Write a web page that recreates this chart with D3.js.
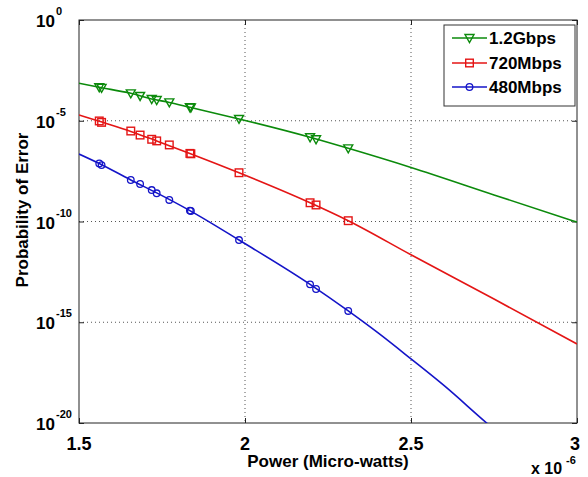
<!DOCTYPE html>
<html>
<head>
<meta charset="utf-8">
<script src="https://cdn.jsdelivr.net/npm/d3@7"></script>
<style>
html,body{margin:0;padding:0;background:#fff;}
text{font-family:"Liberation Sans",Arial,sans-serif;font-weight:bold;fill:#000;}
</style>
</head>
<body>
<svg id="chart" width="588" height="477"></svg>
<script>
// ---- data (power in units of 1e-6 W, probability as log10 exponent) ----
const seriesNames = ["1.2Gbps", "720Mbps", "480Mbps"];
const seriesColors = ["#0b8a0b", "#e41515", "#1414c8"];
const seriesSymbols = ["triangleDown", "square", "circle"];

// markers (measured points)
const markerPower = [1.561, 1.568, 1.656, 1.684, 1.719, 1.734, 1.772, 1.834, 1.837, 1.982, 2.196, 2.214, 2.311];
const markerG = [-3.34, -3.37, -3.64, -3.77, -3.92, -3.97, -4.09, -4.33, -4.34, -4.91, -5.82, -5.92, -6.37];
const markerR = [-5.01, -5.08, -5.51, -5.71, -5.92, -6.00, -6.20, -6.62, -6.64, -7.58, -9.07, -9.18, -9.96];
const markerB = [-7.12, -7.20, -7.94, -8.14, -8.44, -8.60, -8.93, -9.46, -9.48, -10.92, -13.12, -13.35, -14.44];

// theoretical curves
const lineGx = [1.5, 1.561, 1.656, 1.719, 1.772, 1.834, 1.982, 2.196, 2.311, 2.5, 2.75, 3.0];
const lineGy = [-3.14, -3.34, -3.64, -3.92, -4.09, -4.33, -4.91, -5.82, -6.37, -7.32, -8.68, -10.03];
const lineRx = [1.5, 1.561, 1.656, 1.734, 1.834, 1.982, 2.196, 2.311, 2.5, 2.75, 3.0];
const lineRy = [-4.71, -5.03, -5.53, -6.00, -6.62, -7.58, -9.07, -9.96, -11.65, -13.85, -16.08];
const lineBx = [1.5, 1.561, 1.656, 1.734, 1.834, 1.982, 2.196, 2.311, 2.4, 2.5, 2.6, 2.728, 2.8];
const lineBy = [-6.65, -7.12, -7.94, -8.58, -9.46, -10.92, -13.12, -14.44, -15.52, -16.82, -18.15, -20.0, -21.0];

const xTicks = [1.5, 2, 2.5, 3];
const xTickLabels = ["1.5", "2", "2.5", "3"];
const yTickExp = [0, -5, -10, -15, -20];

const xLabel = "Power (Micro-watts)";
const yLabel = "Probability of Error";

// ---- layout ----
const svg = d3.select("#chart");
const L = 79, R = 577, T = 20, B = 423;
const x = d3.scaleLinear().domain([1.5, 3]).range([L, R]);
const y = d3.scaleLog().domain([1e-20, 1]).range([B, T]);

svg.append("rect").attr("x",0).attr("y",0).attr("width",588).attr("height",477).attr("fill","#fff");
svg.append("defs").append("clipPath").attr("id","plotclip")
  .append("rect").attr("x",L).attr("y",T).attr("width",R-L).attr("height",B-T);

// grid
const grid = svg.append("g").attr("stroke","#555").attr("stroke-width",1).attr("stroke-dasharray","1,3");
xTicks.filter(v => v > 1.5 && v < 3).forEach(v => {
  grid.append("line").attr("x1",x(v)).attr("x2",x(v)).attr("y1",T).attr("y2",B);
});
yTickExp.filter(e => e < 0 && e > -20).forEach(e => {
  grid.append("line").attr("x1",L).attr("x2",R).attr("y1",y(Math.pow(10,e))).attr("y2",y(Math.pow(10,e)));
});

// axes via d3 axis generators (inward ticks)
const axB = d3.axisBottom(x).tickValues(xTicks).tickSize(-5).tickFormat("");
const axT = d3.axisTop(x).tickValues(xTicks).tickSize(-5).tickFormat("");
const yTickVals = yTickExp.map(e => Math.pow(10, e));
const axL = d3.axisLeft(y).tickValues(yTickVals).tickSize(-5).tickFormat("");
const axR = d3.axisRight(y).tickValues(yTickVals).tickSize(-5).tickFormat("");
[[axB,`translate(0,${B})`],[axT,`translate(0,${T})`],[axL,`translate(${L},0)`],[axR,`translate(${R},0)`]].forEach(([a,t]) => {
  const g = svg.append("g").attr("transform",t).call(a);
  g.select(".domain").remove();
  g.selectAll("line").attr("stroke","#222");
});
svg.append("rect").attr("x",L).attr("y",T).attr("width",R-L).attr("height",B-T)
  .attr("fill","none").attr("stroke","#222").attr("stroke-width",1);

// x tick labels
xTicks.forEach((v,i) => {
  svg.append("text").attr("x",x(v) - (i === xTicks.length-1 ? 2 : 0)).attr("y",450).attr("text-anchor","middle")
    .attr("font-size",18).text(xTickLabels[i]);
});
// y tick labels 10^e
yTickExp.forEach(e => {
  const yy = y(Math.pow(10,e));
  svg.append("text").attr("x",55).attr("y",yy+7).attr("text-anchor","end")
    .attr("font-size",17).text("10");
  svg.append("text").attr("x",56).attr("y",yy-5).attr("text-anchor","start")
    .attr("font-size",11).text(String(e));
});
// axis labels
svg.append("text").attr("x",(L+R)/2).attr("y",467).attr("text-anchor","middle")
  .attr("font-size",17).text(xLabel);
svg.append("text").attr("transform",`translate(28,${210}) rotate(-90)`).attr("text-anchor","middle")
  .attr("font-size",17).text(yLabel);
// multiplier
svg.append("text").attr("x",531).attr("y",474).attr("font-size",16).text("x 10");
svg.append("text").attr("x",566).attr("y",464).attr("font-size",11).text("-6");

// curves
const lineGen = d3.line().curve(d3.curveMonotoneX).x(d => x(d[0])).y(d => y(Math.pow(10, d[1])));
const lines = [
  d3.zip(lineGx, lineGy),
  d3.zip(lineRx, lineRy),
  d3.zip(lineBx, lineBy)
];
const markers = [markerG, markerR, markerB];
const plotG = svg.append("g").attr("clip-path","url(#plotclip)");

function drawMarker(g, sym, cx, cy, color) {
  if (sym === "triangleDown") {
    g.append("path").attr("d",`M${cx-4.5},${cy-3.5}L${cx+4.5},${cy-3.5}L${cx},${cy+4.5}Z`)
      .attr("fill","none").attr("stroke",color).attr("stroke-width",1.4);
  } else if (sym === "square") {
    g.append("rect").attr("x",cx-3.8).attr("y",cy-3.8).attr("width",7.6).attr("height",7.6)
      .attr("fill","none").attr("stroke",color).attr("stroke-width",1.4);
  } else {
    g.append("circle").attr("cx",cx).attr("cy",cy).attr("r",3.3)
      .attr("fill","none").attr("stroke",color).attr("stroke-width",1.3);
  }
}

lines.forEach((pts, i) => {
  plotG.append("path").datum(pts).attr("d", lineGen).attr("fill","none")
    .attr("stroke", seriesColors[i]).attr("stroke-width", 1.6);
  markerPower.forEach((p, j) => {
    drawMarker(plotG, seriesSymbols[i], x(p), y(Math.pow(10, markers[i][j])), seriesColors[i]);
  });
});

// legend
const lg = svg.append("g");
lg.append("rect").attr("x",444).attr("y",25).attr("width",131).attr("height",81)
  .attr("fill","#fff").attr("stroke","#333").attr("stroke-width",1);
const rowsY = [38, 63, 87];
seriesNames.forEach((n, i) => {
  lg.append("line").attr("x1",452).attr("x2",487).attr("y1",rowsY[i]).attr("y2",rowsY[i])
    .attr("stroke",seriesColors[i]).attr("stroke-width",1.6);
  drawMarker(lg, seriesSymbols[i], 469.5, rowsY[i], seriesColors[i]);
  lg.append("text").attr("x",489).attr("y",rowsY[i]+6).attr("font-size",17).text(n);
});
</script>
</body>
</html>
